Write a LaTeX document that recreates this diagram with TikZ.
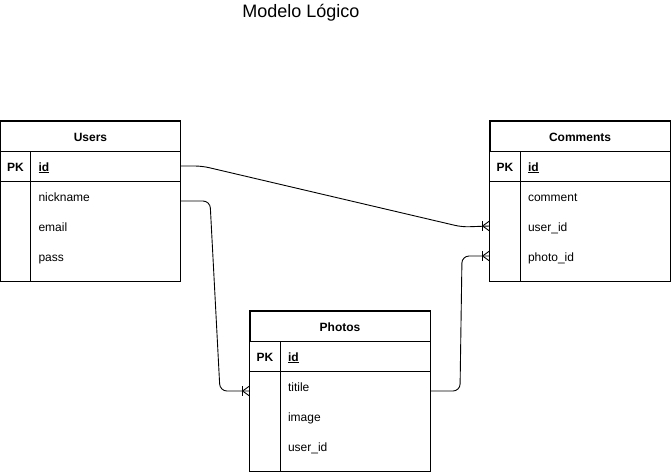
\documentclass[tikz,border=0pt]{standalone}
\usepackage{fontspec}
\setmainfont{Liberation Sans}
\begin{document}
\begin{tikzpicture}[x=1pt,y=-1pt,line width=0.9pt,
    font=\fontsize{12}{14}\selectfont,
    head/.style={draw, minimum width=180pt, minimum height=30pt, inner sep=0pt, text height=11pt, text depth=1pt, font=\fontsize{12}{14}\selectfont\bfseries},
    field/.style={minimum height=30pt, inner xsep=38pt, inner ysep=0pt, text width=104pt, text height=11pt, text depth=1pt, align=left},
    key/.style={text height=11pt, text depth=1pt, font=\fontsize{12}{14}\selectfont\bfseries},
    rel/.style={rounded corners=7pt},
    crowfoot/.pic={\draw (-7,-5) -- (-7,5); \draw (-7,0) -- (0,-5) (-7,0) -- (0,5);}]

  \useasboundingbox (0,0) rectangle (671,472);

  \node (title) at (301,13) {\fontsize{18}{21}\selectfont Modelo Lógico};

  % Users
  \node[head]  (u-head)  at (90.5,136)  {Users};
  \node[key]   (u-pk)    at (15.5,166)  {PK};
  \node[field] (u-id)    at (90.5,166)  {\textbf{\underline{id}}};
  \node[field] (u-nick)  at (90.5,196)  {nickname};
  \node[field] (u-email) at (90.5,226)  {email};
  \node[field] (u-pass)  at (90.5,256)  {pass};
  \draw (u-head.north west) rectangle (180.5,281);
  \draw (u-id.south west) -- (u-id.south east);
  \draw (30.5,151) -- (30.5,281);

  % Comments
  \node[head]  (c-head)    at (580,136)  {Comments};
  \node[key]   (c-pk)      at (505,166)  {PK};
  \node[field] (c-id)      at (580,166)  {\textbf{\underline{id}}};
  \node[field] (c-comment) at (580,196)  {comment};
  \node[field] (c-user)    at (580,226)  {user\_id};
  \node[field] (c-photo)   at (580,256)  {photo\_id};
  \draw (c-head.north west) rectangle (670,281);
  \draw (c-id.south west) -- (c-id.south east);
  \draw (520,151) -- (520,281);

  % Photos
  \node[head]  (p-head)   at (340,326)  {Photos};
  \node[key]   (p-pk)     at (265,356)  {PK};
  \node[field] (p-id)     at (340,356)  {\textbf{\underline{id}}};
  \node[field] (p-titile) at (340,386)  {titile};
  \node[field] (p-image)  at (340,416)  {image};
  \node[field] (p-user)   at (340,446)  {user\_id};
  \draw (p-head.north west) rectangle (430,471);
  \draw (p-id.south west) -- (p-id.south east);
  \draw (280,341) -- (280,471);

  % relations
  \draw[rel] (u-id.east) -- (202,166) -- (462,227) -- (c-user.west);
  \pic at (c-user.west) {crowfoot};

  \draw[rel] ([yshift=-5pt]u-nick.east) -- (210,201) -- (220,391) -- ([yshift=-5pt]p-titile.west);
  \pic at ([yshift=-5pt]p-titile.west) {crowfoot};

  \draw[rel] ([yshift=-5pt]p-titile.east) -- (460,391) -- (462,256) -- (c-photo.west);
  \pic at (c-photo.west) {crowfoot};
\end{tikzpicture}
\end{document}
